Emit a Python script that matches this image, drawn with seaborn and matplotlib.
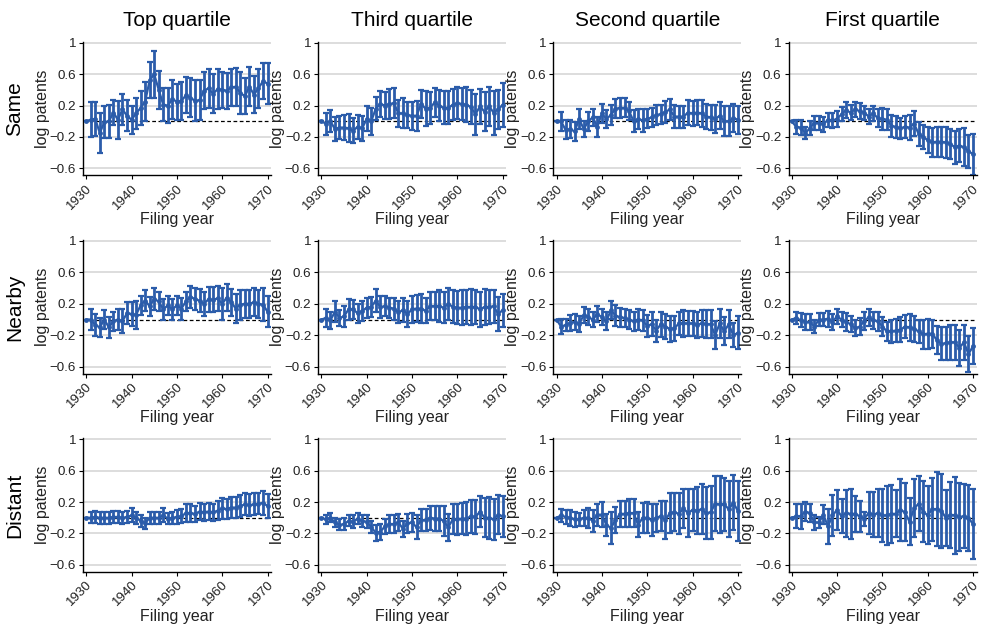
import numpy as np
import pandas as pd
import seaborn as sns
import matplotlib.pyplot as plt

sns.set_theme(style="ticks")
plt.rcParams['font.family'] = ['Liberation Sans', 'DejaVu Sans']

# filing years (1930 is the reference year)
years = list(range(1930, 1971))

quartiles = ["Top quartile", "Third quartile", "Second quartile", "First quartile"]
distances = ["Same", "Nearby", "Distant"]

y_ticks = [-0.6, -0.2, 0.2, 0.6, 1.0]
y_ticklabels = ["\u22120.6", "\u22120.2", "0.2", "0.6", "1"]
x_ticks = [1930, 1940, 1950, 1960, 1970]

# point estimates and half-width of the confidence interval
same_top = [0, 0.02, 0.03, -0.15, -0.01, 0.0, 0.11, 0.02, 0.15, 0.07,
            0.02, 0.1, 0.17, 0.25, 0.52, 0.6, 0.4, 0.21, 0.2, 0.28,
            0.25, 0.26, 0.33, 0.3, 0.26, 0.27, 0.39, 0.42, 0.35, 0.41,
            0.4, 0.39, 0.43, 0.44, 0.36, 0.32, 0.44, 0.34, 0.42, 0.51, 0.48]
same_top_ci = [0, 0.22, 0.22, 0.26, 0.2, 0.21, 0.16, 0.24, 0.2, 0.2,
               0.18, 0.2, 0.22, 0.25, 0.23, 0.3, 0.24, 0.21, 0.22, 0.25,
               0.23, 0.24, 0.23, 0.25, 0.26, 0.25, 0.24, 0.25, 0.25, 0.25,
               0.23, 0.23, 0.23, 0.24, 0.27, 0.23, 0.25, 0.24, 0.25, 0.23, 0.26]

same_third = [0, -0.03, 0.0, -0.1, -0.08, -0.08, -0.09, -0.12, -0.07, -0.09,
              0.03, 0.0, 0.16, 0.22, 0.2, 0.22, 0.23, 0.1, 0.1, 0.08,
              0.07, 0.07, 0.22, 0.16, 0.17, 0.24, 0.2, 0.17, 0.17, 0.21,
              0.23, 0.22, 0.21, 0.18, 0.09, 0.19, 0.12, 0.19, 0.11, 0.15, 0.21]
same_third_ci = [0, 0.14, 0.14, 0.15, 0.15, 0.16, 0.18, 0.16, 0.15, 0.16,
                 0.16, 0.17, 0.15, 0.17, 0.17, 0.19, 0.19, 0.17, 0.19, 0.17,
                 0.18, 0.19, 0.18, 0.22, 0.2, 0.18, 0.2, 0.21, 0.21, 0.2,
                 0.2, 0.2, 0.22, 0.22, 0.26, 0.22, 0.25, 0.25, 0.28, 0.25, 0.28]

same_second = [0, 0.0, -0.11, -0.1, -0.13, 0.03, -0.1, 0.0, 0.05, -0.07,
               0.1, 0.03, 0.08, 0.16, 0.17, 0.17, 0.13, 0.0, 0.03, 0.01,
               0.03, 0.05, 0.08, 0.09, 0.12, 0.15, 0.06, 0.06, 0.06, 0.11,
               0.1, 0.11, 0.1, 0.06, 0.05, 0.03, 0.07, 0.0, 0.0, 0.04, 0.02]
same_second_ci = [0, 0.12, 0.12, 0.11, 0.12, 0.13, 0.1, 0.12, 0.11, 0.13,
                  0.12, 0.11, 0.13, 0.12, 0.13, 0.12, 0.12, 0.14, 0.13, 0.15,
                  0.12, 0.12, 0.13, 0.12, 0.14, 0.13, 0.15, 0.14, 0.14, 0.16,
                  0.16, 0.16, 0.17, 0.16, 0.16, 0.18, 0.17, 0.19, 0.19, 0.18, 0.18]

same_first = [0, -0.07, -0.08, -0.15, -0.09, -0.02, -0.02, -0.04, 0.02, 0.01,
              0.03, 0.09, 0.14, 0.11, 0.15, 0.13, 0.11, 0.06, 0.1, 0.04,
              0.03, 0.02, -0.06, -0.07, -0.09, -0.07, -0.08, -0.03, -0.16, -0.2,
              -0.24, -0.27, -0.26, -0.26, -0.27, -0.29, -0.33, -0.31, -0.33, -0.38, -0.42]
same_first_ci = [0, 0.09, 0.09, 0.08, 0.09, 0.09, 0.09, 0.1, 0.09, 0.1,
                 0.1, 0.09, 0.1, 0.1, 0.09, 0.1, 0.09, 0.1, 0.1, 0.11,
                 0.14, 0.13, 0.14, 0.14, 0.13, 0.14, 0.16, 0.16, 0.15, 0.15,
                 0.17, 0.18, 0.19, 0.19, 0.2, 0.19, 0.21, 0.21, 0.24, 0.21, 0.26]

nearby_top = [0, 0.0, -0.07, -0.1, 0.0, -0.1, -0.02, 0.0, -0.02, 0.08,
              0.07, 0.06, 0.18, 0.24, 0.17, 0.26, 0.23, 0.13, 0.18, 0.13,
              0.18, 0.14, 0.23, 0.29, 0.26, 0.24, 0.2, 0.26, 0.25, 0.27,
              0.2, 0.28, 0.22, 0.14, 0.19, 0.2, 0.2, 0.22, 0.2, 0.19, 0.1]
nearby_top_ci = [0, 0.13, 0.14, 0.12, 0.12, 0.13, 0.12, 0.13, 0.15, 0.14,
                 0.15, 0.18, 0.12, 0.13, 0.12, 0.14, 0.12, 0.13, 0.12, 0.13,
                 0.12, 0.14, 0.12, 0.14, 0.14, 0.15, 0.15, 0.16, 0.16, 0.16,
                 0.2, 0.17, 0.17, 0.19, 0.19, 0.18, 0.18, 0.18, 0.18, 0.21, 0.2]

nearby_third = [0, 0.02, -0.01, 0.1, 0.02, 0.04, 0.13, 0.13, 0.08, 0.11,
                0.15, 0.16, 0.24, 0.16, 0.17, 0.15, 0.14, 0.09, 0.12, 0.07,
                0.13, 0.14, 0.14, 0.11, 0.17, 0.17, 0.17, 0.15, 0.2, 0.16,
                0.15, 0.15, 0.16, 0.16, 0.16, 0.13, 0.16, 0.16, 0.17, 0.07, 0.12]
nearby_third_ci = [0, 0.11, 0.11, 0.13, 0.1, 0.13, 0.13, 0.12, 0.12, 0.13,
                   0.13, 0.13, 0.15, 0.14, 0.13, 0.13, 0.14, 0.14, 0.15, 0.16,
                   0.17, 0.17, 0.18, 0.16, 0.18, 0.18, 0.2, 0.2, 0.2, 0.21,
                   0.21, 0.22, 0.22, 0.23, 0.22, 0.22, 0.23, 0.22, 0.21, 0.22, 0.21]

nearby_second = [0, -0.09, -0.07, -0.04, -0.03, -0.06, 0.06, 0.03, 0.0, 0.07,
                 0.03, -0.02, 0.12, 0.05, 0.03, 0.02, 0.0, -0.02, 0.0, -0.01,
                 -0.08, -0.06, -0.14, -0.06, -0.09, -0.12, -0.11, -0.05, -0.05, -0.05,
                 -0.05, -0.07, -0.05, -0.06, -0.06, -0.2, -0.05, -0.15, -0.06, -0.2, -0.17]
nearby_second_ci = [0, 0.1, 0.08, 0.1, 0.1, 0.1, 0.1, 0.1, 0.1, 0.1,
                    0.1, 0.11, 0.11, 0.13, 0.12, 0.11, 0.12, 0.12, 0.13, 0.13,
                    0.14, 0.15, 0.14, 0.16, 0.16, 0.16, 0.16, 0.15, 0.17, 0.16,
                    0.16, 0.17, 0.17, 0.18, 0.18, 0.18, 0.18, 0.18, 0.18, 0.15, 0.21]

nearby_first = [0, 0.02, -0.01, -0.03, -0.03, -0.09, 0.0, 0.0, 0.01, -0.03,
                0.04, 0.0, -0.03, -0.06, -0.11, -0.09, -0.02, 0.03, -0.01, -0.02,
                -0.09, -0.15, -0.15, -0.14, -0.13, -0.09, -0.1, -0.12, -0.15, -0.19,
                -0.18, -0.18, -0.26, -0.31, -0.3, -0.29, -0.29, -0.36, -0.29, -0.44, -0.34]
nearby_first_ci = [0, 0.08, 0.09, 0.1, 0.1, 0.08, 0.08, 0.08, 0.1, 0.1,
                   0.1, 0.1, 0.11, 0.1, 0.1, 0.11, 0.11, 0.11, 0.11, 0.12,
                   0.12, 0.12, 0.15, 0.15, 0.16, 0.15, 0.17, 0.16, 0.15, 0.18,
                   0.19, 0.18, 0.18, 0.21, 0.21, 0.22, 0.22, 0.23, 0.22, 0.23, 0.23]

distant_top = [0, 0.0, 0.01, 0.0, 0.0, 0.0, 0.01, 0.01, 0.0, 0.01,
               0.03, 0.0, -0.04, -0.07, 0.0, 0.0, 0.0, 0.03, -0.01, 0.0,
               0.01, 0.02, 0.06, 0.06, 0.05, 0.08, 0.07, 0.08, 0.07, 0.09,
               0.12, 0.11, 0.13, 0.13, 0.15, 0.17, 0.16, 0.17, 0.18, 0.19, 0.15]
distant_top_ci = [0, 0.07, 0.08, 0.08, 0.08, 0.08, 0.08, 0.08, 0.08, 0.08,
                  0.09, 0.08, 0.08, 0.07, 0.08, 0.08, 0.08, 0.09, 0.07, 0.08,
                  0.09, 0.09, 0.11, 0.11, 0.1, 0.11, 0.11, 0.11, 0.11, 0.12,
                  0.13, 0.13, 0.13, 0.13, 0.14, 0.14, 0.14, 0.14, 0.13, 0.15, 0.15]

distant_third = [0, -0.02, 0.0, -0.06, -0.09, -0.08, -0.04, -0.05, -0.01, -0.04,
                 -0.05, -0.12, -0.19, -0.18, -0.11, -0.08, -0.08, -0.06, -0.14, -0.07,
                 -0.06, -0.12, -0.03, -0.03, 0.0, -0.01, -0.01, -0.04, -0.12, -0.02,
                 -0.02, -0.01, -0.01, 0.02, 0.01, 0.08, 0.0, 0.0, -0.02, 0.04, 0.02]
distant_third_ci = [0, 0.06, 0.06, 0.06, 0.07, 0.08, 0.07, 0.08, 0.07, 0.08,
                    0.08, 0.08, 0.1, 0.1, 0.1, 0.11, 0.11, 0.11, 0.1, 0.12,
                    0.12, 0.15, 0.14, 0.14, 0.15, 0.16, 0.16, 0.19, 0.17, 0.19,
                    0.2, 0.2, 0.21, 0.21, 0.22, 0.2, 0.25, 0.27, 0.26, 0.25, 0.26]

distant_second = [0, 0.03, 0.01, 0.0, -0.02, -0.02, 0.0, 0.0, -0.04, 0.04,
                  0.04, -0.09, -0.13, -0.03, 0.05, 0.05, 0.06, 0.06, -0.09, 0.0,
                  0.0, -0.03, 0.0, 0.02, -0.03, 0.06, 0.07, 0.05, 0.12, 0.06,
                  0.1, 0.09, 0.11, 0.06, 0.07, 0.18, 0.17, 0.17, 0.11, 0.19, 0.09]
distant_second_ci = [0, 0.08, 0.085, 0.1, 0.1, 0.085, 0.105, 0.125, 0.145, 0.14,
                     0.16, 0.14, 0.2, 0.17, 0.17, 0.17, 0.18, 0.18, 0.16, 0.19,
                     0.2, 0.2, 0.18, 0.19, 0.24, 0.25, 0.24, 0.26, 0.25, 0.31,
                     0.27, 0.3, 0.32, 0.33, 0.34, 0.35, 0.36, 0.34, 0.36, 0.35, 0.38]

distant_first = [0, 0.02, 0.02, 0.08, 0.06, -0.06, -0.06, 0.04, -0.11, 0.03,
                 0.1, 0.02, 0.06, 0.05, 0.05, 0.02, -0.01, 0.06, 0.04, 0.06,
                 0.03, 0.03, 0.05, 0.05, 0.1, 0.07, -0.05, 0.12, 0.18, 0.08,
                 0.03, 0.11, 0.11, 0.09, 0.0, 0.04, 0.03, 0.01, 0.02, 0.0, -0.08]
distant_first_ci = [0, 0.15, 0.16, 0.12, 0.11, 0.1, 0.07, 0.12, 0.22, 0.26,
                    0.25, 0.22, 0.3, 0.32, 0.23, 0.2, 0.09, 0.27, 0.29, 0.31,
                    0.34, 0.38, 0.37, 0.3, 0.4, 0.37, 0.3, 0.37, 0.35, 0.39,
                    0.37, 0.4, 0.47, 0.47, 0.36, 0.42, 0.49, 0.43, 0.41, 0.42, 0.45]

estimates = {
    "Same": [(same_top, same_top_ci), (same_third, same_third_ci),
             (same_second, same_second_ci), (same_first, same_first_ci)],
    "Nearby": [(nearby_top, nearby_top_ci), (nearby_third, nearby_third_ci),
               (nearby_second, nearby_second_ci), (nearby_first, nearby_first_ci)],
    "Distant": [(distant_top, distant_top_ci), (distant_third, distant_third_ci),
                (distant_second, distant_second_ci), (distant_first, distant_first_ci)],
}

blue = "#2B5CAA"
grey_text = "#222222"

fig, axes = plt.subplots(3, 4, figsize=(9.86, 6.26), dpi=100)
fig.subplots_adjust(left=0.0842, right=0.9905, bottom=0.0863, top=0.933,
                    wspace=0.25, hspace=0.485)

for r, dist in enumerate(distances):
    for c, quart in enumerate(quartiles):
        ax = axes[r, c]
        coef, ci = estimates[dist][c]
        df = pd.DataFrame({"year": years, "coef": coef, "ci": ci})

        ax.yaxis.grid(True, color="#d3d3d3", lw=1.1, zorder=0)
        ax.axhline(0, color="black", lw=0.9, ls=(0, (3, 2)), zorder=1)
        ax.errorbar(df["year"], df["coef"], yerr=df["ci"], fmt="none",
                    ecolor=blue, elinewidth=2.0, capsize=2.2, capthick=1.6, zorder=2)
        sns.lineplot(data=df, x="year", y="coef", ax=ax, color=blue, lw=1.6,
                     marker="o", markersize=3.5, markeredgewidth=0, zorder=3)

        ax.set_xlim(1929.3, 1970.8)
        ax.set_ylim(-0.69, 1.01)
        ax.set_yticks(y_ticks)
        ax.set_yticklabels(y_ticklabels)
        ax.set_xticks(x_ticks)
        ax.set_xticklabels([str(t) for t in x_ticks], rotation=45, ha="right",
                           rotation_mode="anchor")
        ax.tick_params(axis="both", labelsize=9.6, colors=grey_text, length=3,
                       width=0.8, pad=2)
        ax.tick_params(axis="both", color="black")
        sns.despine(ax=ax)
        for side in ["left", "bottom"]:
            ax.spines[side].set_color("black")
            ax.spines[side].set_linewidth(1.0)
        ax.set_xlabel("Filing year", fontsize=11.5, color=grey_text, labelpad=0)
        ax.set_ylabel("log patents", fontsize=11.5, color=grey_text, labelpad=0)

        if r == 0:
            pos = ax.get_position()
            fig.text((pos.x0 + pos.x1) / 2, 1 - 20 / 626, quart, fontsize=15,
                     ha="center", va="center", color="black")

    pos = axes[r, 0].get_position()
    fig.text(15 / 986, (pos.y0 + pos.y1) / 2, dist, fontsize=15, rotation=90,
             ha="center", va="center", color="black")

fig.savefig("out.png", dpi=100)
